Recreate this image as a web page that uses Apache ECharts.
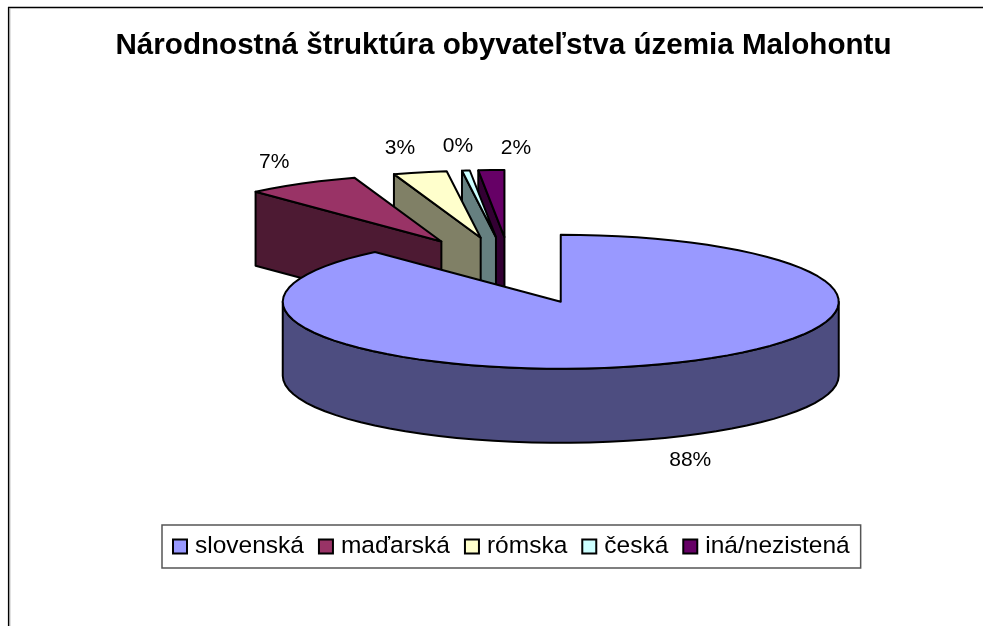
<!DOCTYPE html>
<html><head><meta charset="utf-8">
<style>html,body{margin:0;padding:0;background:#fff}#c{width:983px;height:626px}</style>
<script src="https://cdn.jsdelivr.net/npm/echarts@6/dist/echarts.min.js"></script>
</head><body><div id="c"></div>
<script>
const categories = ['slovenská','maďarská','rómska','česká','iná/nezistená'];
const shares = [88.35, 6.6, 3.1, 0.45, 1.5];
const labels = ['88%','7%','3%','0%','2%'];
const chartTitle = 'Národnostná štruktúra obyvateľstva územia Malohontu';

const topColors  = ['#9999FF','#993366','#FFFFCC','#CCFFFF','#660066'];
const wallColors = ['#4D4D80','#4D1A33','#808066','#668080','#330033'];
const labelNudge = [[30,22],[-28,-21.5],[-20,-24.5],[-8,-24.5],[24.6,-22]];

const pie = {cx:511, cy:270.5, rx:278, ry:67, depth:74, explode:0.5};
const total = shares.reduce((a,b)=>a+b,0);
const rad = d => d*Math.PI/180;
const rim = (c,t) => [c[0]+pie.rx*Math.sin(t), c[1]-pie.ry*Math.cos(t)];
const down = p => [p[0], p[1]+pie.depth];

function arc(c,a,b){
  const n = Math.max(2, Math.ceil(Math.abs(b-a)/rad(4))), pts=[];
  for(let k=0;k<=n;k++) pts.push(rim(c,a+(b-a)*k/n));
  return pts;
}
function sliceChildren(i){
  const before = shares.slice(0,i).reduce((a,b)=>a+b,0);
  const a0 = rad(before/total*360), a1 = rad((before+shares[i])/total*360), m=(a0+a1)/2;
  const c = [pie.cx+pie.explode*pie.rx*Math.sin(m), pie.cy-pie.explode*pie.ry*Math.cos(m)];
  const out=[];
  const st = {stroke:'#000', lineWidth:2, lineJoin:'round'};
  const poly=(pts,fill)=>out.push({type:'polygon',shape:{points:pts},style:Object.assign({fill},st)});
  const f0=Math.max(a0,rad(90)), f1=Math.min(a1,rad(270));
  const endA=rim(c,a0), endB=rim(c,a1);
  if(Math.sin(a1)>1e-6) poly([c,endB,down(endB),down(c)],wallColors[i]);
  if(f1>f0){ const top=arc(c,f0,f1); poly(top.concat(top.map(down).reverse()),wallColors[i]); }
  if(Math.sin(a0)<-1e-6) poly([c,endA,down(endA),down(c)],wallColors[i]);
  poly([c].concat(arc(c,a0,a1)),topColors[i]);
  const mp=rim(c,m), y=Math.cos(m)<0?mp[1]+pie.depth:mp[1];
  out.push({type:'text',style:{text:labels[i],x:mp[0]+labelNudge[i][0],y:y+labelNudge[i][1],
    fill:'#000',font:'21px "Liberation Sans"',align:'center',verticalAlign:'middle'}});
  return out;
}
const chart = echarts.init(document.getElementById('c'),null,{renderer:'canvas'});
chart.setOption({
  animation:false,
  backgroundColor:'#fff',
  title:{text:chartTitle,left:503.5,top:31,padding:0,textAlign:'center',
    textStyle:{fontFamily:'Liberation Sans',fontWeight:'bold',fontSize:29.6,color:'#000'}},
  legend:{
    left:162, top:525, orient:'horizontal', selectedMode:false,
    padding:[9,11,9,10], itemGap:14, itemWidth:14, itemHeight:14, icon:'rect',
    borderColor:'#555', borderWidth:1.5, backgroundColor:'#fff',
    textStyle:{fontFamily:'Liberation Sans',fontSize:24.5,color:'#000',padding:[0,0,0,3]},
    itemStyle:{borderColor:'#000',borderWidth:2},
    data:categories
  },
  graphic:[
    {type:'line',silent:true,shape:{x1:8,y1:7.5,x2:983,y2:7.5},style:{stroke:'#000',lineWidth:1.6}},
    {type:'line',silent:true,shape:{x1:8.6,y1:7,x2:8.6,y2:626},style:{stroke:'#000',lineWidth:1.4}},
    {type:'line',silent:true,shape:{x1:9.8,y1:8,x2:9.8,y2:626},style:{stroke:'#999',lineWidth:1}}
  ],
  series:categories.map((n,i)=>({
    type:'custom',name:n,coordinateSystem:'none',z:10-i,
    itemStyle:{color:topColors[i]},
    data:[shares[i]],
    renderItem:()=>({type:'group',children:sliceChildren(i)})
  }))
});
</script></body></html>
